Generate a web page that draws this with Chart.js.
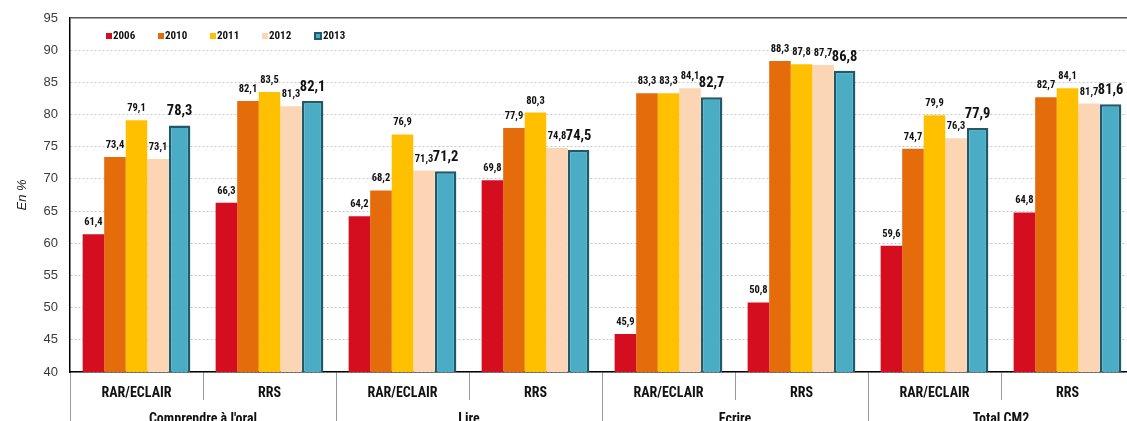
<!DOCTYPE html>
<html>
<head>
<meta charset="utf-8">
<script src="https://cdn.jsdelivr.net/npm/chart.js@4.4.1/dist/chart.umd.min.js"></script>
<style>
  html, body { margin: 0; padding: 0; background: #fff; overflow: hidden; }
  #wrap { position: relative; width: 1134px; height: 427px; }
  #legend { position: absolute; left: 106px; top: 29px; display: flex;
            font: bold 11px "Roboto Condensed", "Liberation Sans", sans-serif; color: #111; line-height: 14px; }
  .item { display: flex; align-items: center; width: 52px; }
  .box { width: 6px; height: 6px; margin-right: 1px; box-sizing: border-box; }
</style>
</head>
<body>
<div id="wrap"><canvas id="chart"></canvas><div id="legend"></div></div>
<script>
const FONT = '"Roboto Condensed", "Liberation Sans", sans-serif';

const categories = ['RAR/ECLAIR', 'RRS', 'RAR/ECLAIR', 'RRS', 'RAR/ECLAIR', 'RRS', 'RAR/ECLAIR', 'RRS'];
const groups = ["Comprendre à l'oral", 'Lire', 'Ecrire', 'Total CM2'];
const years = ['2006', '2010', '2011', '2012', '2013'];

const v2006 = [61.4, 66.3, 64.2, 69.8, 45.9, 50.8, 59.6, 64.8];
const v2010 = [73.4, 82.1, 68.2, 77.9, 83.3, 88.3, 74.7, 82.7];
const v2011 = [79.1, 83.5, 76.9, 80.3, 83.3, 87.8, 79.9, 84.1];
const v2012 = [73.1, 81.3, 71.3, 74.8, 84.1, 87.7, 76.3, 81.7];
const v2013 = [78.3, 82.1, 71.2, 74.5, 82.7, 86.8, 77.9, 81.6];

const yMin = 40, yMax = 95, yStep = 5;

const colors = ['#d40e1f', '#e46c0a', '#ffc000', '#fcd5b5', '#4bacc6'];
const series = [v2006, v2010, v2011, v2012, v2013];

// value labels above the bars, bigger for the last year
const valueLabels = {
  id: 'valueLabels',
  afterDatasetsDraw(chart) {
    const ctx = chart.ctx;
    chart.data.datasets.forEach((ds, i) => {
      const meta = chart.getDatasetMeta(i);
      const big = i === chart.data.datasets.length - 1;
      ctx.save();
      ctx.font = (big ? 'bold 14.5px ' : 'bold 10.5px ') + FONT;
      ctx.fillStyle = '#111';
      ctx.textAlign = 'center';
      ctx.textBaseline = 'alphabetic';
      meta.data.forEach((bar, j) => {
        ctx.fillText(ds.data[j].toFixed(1).replace('.', ','), bar.x, bar.y - (big ? 10 : 9));
      });
      ctx.restore();
    });
  }
};

const chart = new Chart(document.getElementById('chart'), {
  type: 'bar',
  data: {
    labels: categories,
    datasets: years.map((y, i) => ({
      label: y,
      data: series[i],
      backgroundColor: colors[i],
      borderColor: i === 4 ? '#1f5a6b' : colors[i],
      borderWidth: i === 4 ? 2.5 : 0,
      borderSkipped: false,
      categoryPercentage: 0.81,
      barPercentage: 1.0
    }))
  },
  options: {
    responsive: true,
    maintainAspectRatio: false,
    animation: false,
    layout: { padding: { top: 18, left: 0, right: 0, bottom: 0 } },
    plugins: { legend: { display: false }, tooltip: { enabled: false } },
    scales: {
      y: {
        min: yMin, max: yMax,
        ticks: { stepSize: yStep, padding: 12, color: '#3a3a3a', font: { family: '"Liberation Sans", Arial, sans-serif', size: 13 } },
        grid: {
          drawTicks: false,
          color: ctx => (ctx.tick && ctx.tick.value === yMax) ? '#555' : '#c8c8c8',
          lineWidth: ctx => (ctx.tick && ctx.tick.value === yMax) ? 1.5 : 1
        },
        border: { color: '#000', width: 1.5, dash: ctx => (ctx.tick && ctx.tick.value === yMax) ? [] : [2, 2] },
        title: { display: true, text: 'En %', color: '#222', padding: { top: 15, bottom: 0 },
                 font: { family: '"Liberation Sans", Arial, sans-serif', size: 13, style: 'italic' } },
        afterFit: s => { s.width = 70; s.paddingTop = 0; s.paddingBottom = 0; }
      },
      x: {
        ticks: { padding: -15, color: '#111', font: { family: FONT, size: 14, weight: 'bold' } },
        grid: { offset: true, drawOnChartArea: false, tickLength: 28, color: '#9a9a9a' },
        border: { color: '#000', width: 1.5 },
        afterFit: s => { s.height = 28; }
      },
      x2: {
        type: 'category',
        labels: groups,
        position: 'bottom',
        ticks: { padding: -29, color: '#111', font: { family: FONT, size: 14, weight: 'bold' } },
        grid: { offset: true, drawOnChartArea: false, tickLength: 40, color: '#9a9a9a' },
        border: { display: false },
        afterFit: s => { s.height = 27; }
      }
    }
  },
  plugins: [valueLabels]
});

// legend drawn inside the plot, as in the original
const legend = document.getElementById('legend');
chart.data.datasets.forEach((ds, i) => {
  const item = document.createElement('div');
  item.className = 'item';
  const box = document.createElement('span');
  box.className = 'box';
  box.style.background = ds.backgroundColor;
  if (ds.borderWidth) {
    box.style.border = '2px solid ' + ds.borderColor;
    box.style.width = '8px';
    box.style.height = '8px';
  }
  item.appendChild(box);
  item.appendChild(document.createTextNode(ds.label));
  legend.appendChild(item);
});
</script>
</body>
</html>
